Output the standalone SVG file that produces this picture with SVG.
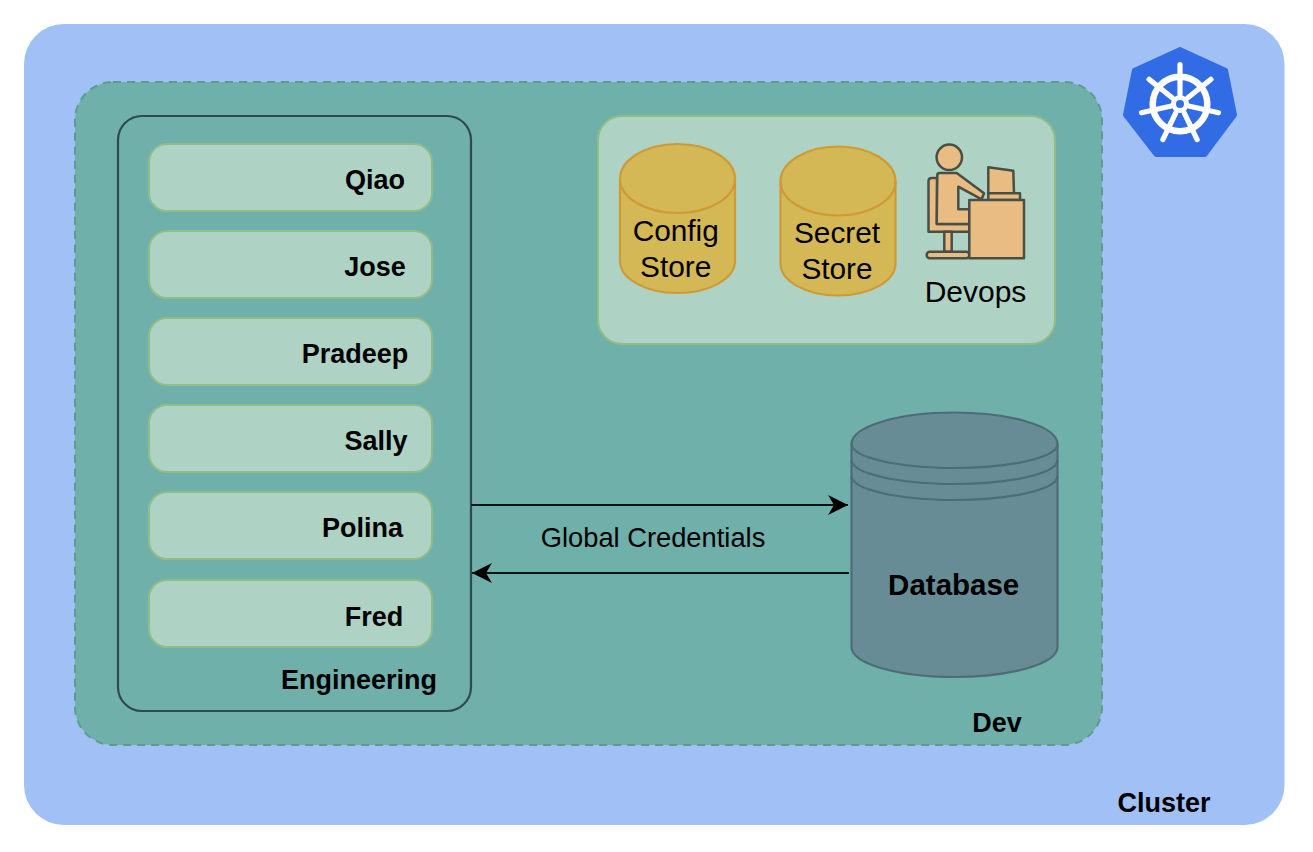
<svg xmlns="http://www.w3.org/2000/svg" width="1313" height="852" viewBox="0 0 1313 852">
<defs>
<style>
text{font-family:"Liberation Sans",Arial,sans-serif;fill:#000}
.b{font-weight:700;font-size:27px;text-anchor:middle}
.r{font-size:29.800px;text-anchor:middle}
.m{fill:#aed2c4;stroke:#8fbd87;stroke-width:2}
.y{fill:#d4b856;stroke:#cf9a34;stroke-width:2.200}
.d{fill:#678c95;stroke:#4c6d78;stroke-width:2.200}
.p{fill:#e8bc82;stroke:#4a4f45;stroke-width:2.500;stroke-linejoin:round}
.c{fill:none;stroke:#0a1414;stroke-width:2.200}
.n{fill:none}
</style>
<marker id="a" markerUnits="userSpaceOnUse" markerWidth="22" markerHeight="22" refX="20" refY="11" orient="auto"><path d="M0 1L20 11L0 21L6 11Z" fill="#000"/></marker>
</defs>
<rect width="1313" height="852" fill="#fff"/>
<g id="cluster"><rect x="24" y="24" width="1260.500" height="801" rx="40" fill="#a1c0f5"/><text class="b" x="1164" y="812">Cluster</text></g>
<g id="dev"><rect x="75" y="82" width="1027" height="663" rx="38" fill="#70b0aa" stroke="#5b9d8a" stroke-width="2" stroke-dasharray="8 6"/><text class="b" x="997" y="732">Dev</text></g>
<g id="engineering"><rect x="118" y="116" width="353" height="595" rx="24" fill="#70b0aa" stroke="#2f4a4e" stroke-width="2.200"/><text class="b" x="359" y="688.500">Engineering</text></g>
<g id="qiao"><rect class="m" x="149" y="144" width="283" height="67" rx="18"/><text class="b" x="375" y="189">Qiao</text></g>
<g id="jose"><rect class="m" x="149" y="231" width="283" height="67" rx="18"/><text class="b" x="375" y="276">Jose</text></g>
<g id="pradeep"><rect class="m" x="149" y="318" width="283" height="67" rx="18"/><text class="b" x="355" y="363">Pradeep</text></g>
<g id="sally"><rect class="m" x="149" y="405" width="283" height="67" rx="18"/><text class="b" x="376" y="450">Sally</text></g>
<g id="polina"><rect class="m" x="149" y="492" width="283" height="67" rx="18"/><text class="b" x="362.500" y="537">Polina</text></g>
<g id="fred"><rect class="m" x="149" y="580" width="283" height="67" rx="18"/><text class="b" x="374" y="626">Fred</text></g>
<g id="store-panel"><rect class="m" x="598" y="116" width="457" height="228" rx="24"/></g>
<g id="config-store"><path class="y" d="M620 179A57.500 35 0 0 1 735 179V261A57.500 32 0 0 1 620 261Z"/><path class="y n" d="M620 179A57.500 34 0 0 0 735 179"/><text class="r" x="675.700" y="240.500">Config</text><text class="r" x="675.700" y="277">Store</text></g>
<g id="secret-store"><path class="y" d="M780.500 181.500A57.500 35 0 0 1 895.500 181.500V263.500A57.500 32 0 0 1 780.500 263.500Z"/><path class="y n" d="M780.500 181.500A57.500 34 0 0 0 895.500 181.500"/><text class="r" x="837" y="242.500">Secret</text><text class="r" x="837" y="279">Store</text></g>
<g id="devops">
<path class="p" d="M928.500 181Q928.500 178 932 178H937V224H969.300V231.700H928.500Z"/>
<path class="p" d="M944.300 231.700H951.700V251.700H944.300Z"/>
<rect class="p" x="926.700" y="251.700" width="42.600" height="6.600" rx="3"/>
<path class="p" d="M937.300 175Q937.300 173 940 173H956.700L984 193.300L981.700 199.300L958.300 186.700V209.300H969.300V224H936.700Z"/>
<circle class="p" cx="949.300" cy="157.300" r="12.700"/>
<path class="p" d="M988.300 167.300L1013.300 170.700L1014 193.300H988.300Z"/>
<rect class="p" x="988.300" y="193.300" width="31.700" height="6.700"/>
<rect class="p" x="969.300" y="200" width="54.700" height="58.300"/>
<text x="975.500" y="302" style="font-size:30px;text-anchor:middle">Devops</text>
</g>
<g id="database">
<path class="d" d="M851.500 444A103 31.500 0 0 1 1057.500 444V647A103 30 0 0 1 851.500 647Z"/>
<path class="d n" d="M851.500 444A103 24 0 0 0 1057.500 444M851.500 460A103 24 0 0 0 1057.500 460M851.500 476A103 24 0 0 0 1057.500 476"/>
<text x="953.700" y="594.500" style="font-size:29.500px;font-weight:700;text-anchor:middle">Database</text>
</g>
<g id="connectors">
<path class="c" marker-end="url(#a)" d="M471 505H848"/>
<path class="c" marker-end="url(#a)" d="M849 573H472"/>
<text x="653" y="547" style="font-size:27.300px;text-anchor:middle">Global Credentials</text>
</g>
<g id="kubernetes-logo">
<path d="M1180 49L1226 70L1235 115L1205 155H1156L1125 115L1134 70Z" fill="#326ce5" stroke="#326ce5" stroke-width="4" stroke-linejoin="round"/>
<g fill="none" stroke="#fff" stroke-linecap="round">
<circle cx="1180" cy="104" r="27.300" stroke-width="6.500"/>
<circle cx="1180" cy="104" r="6.500" stroke-width="5"/>
<g stroke-width="5.200">
<path d="M1180 94V64.500"/>
<path transform="rotate(51.430 1180 104)" d="M1180 94V64.500"/>
<path transform="rotate(102.860 1180 104)" d="M1180 94V64.500"/>
<path transform="rotate(154.290 1180 104)" d="M1180 94V64.500"/>
<path transform="rotate(205.710 1180 104)" d="M1180 94V64.500"/>
<path transform="rotate(257.140 1180 104)" d="M1180 94V64.500"/>
<path transform="rotate(308.570 1180 104)" d="M1180 94V64.500"/>
</g></g></g>
</svg>
